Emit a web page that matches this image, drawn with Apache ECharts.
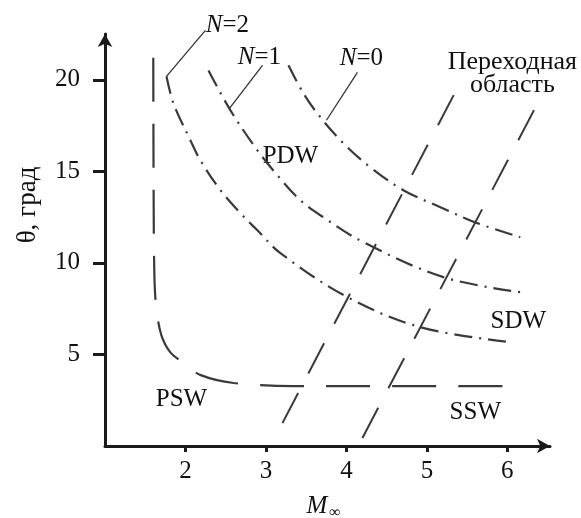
<!DOCTYPE html>
<html>
<head>
<meta charset="utf-8">
<script src="https://cdn.jsdelivr.net/npm/echarts@6/dist/echarts.min.js"></script>
<style>
  html, body { margin: 0; padding: 0; background: #fff; }
  #chart { width: 581px; height: 518px; }
</style>
</head>
<body>
<div id="chart"></div>
<script>
// Axis ticks
const xTicks = [2, 3, 4, 5, 6];
const yTicks = [5, 10, 15, 20];

// Wave-reflection boundaries for N = 2, 1, 0 (dash-dot curves)
const curveN2 = [[1.764, 20.19], [1.851, 18.71], [2.062, 16.69], [2.186, 15.60], [2.435, 13.97],
  [2.683, 12.71], [2.894, 11.78], [3.180, 10.53], [4.012, 8.13], [4.919, 6.49], [6.037, 5.67]];
const curveN1 = [[2.286, 20.51], [2.559, 18.33], [2.894, 16.15], [3.143, 14.78], [3.429, 13.42],
  [3.714, 12.49], [4.211, 11.13], [5.205, 9.22], [6.161, 8.40]];
const curveN0 = [[3.280, 20.79], [3.466, 19.26], [3.677, 17.95], [3.963, 16.53], [4.298, 15.22],
  [4.708, 13.97], [5.168, 13.04], [5.627, 12.17], [6.161, 11.40]];

// PSW / SSW boundary (long dashes)
const shockBoundary = [[1.600, 21.2], [1.605, 13.0], [1.615, 9.06], [1.640, 7.42], [1.700, 6.06],
  [1.810, 5.13], [1.975, 4.53], [2.190, 3.87], [2.600, 3.44], [3.340, 3.27], [6.200, 3.27]];

// Edges of the transition region
const transitionLeft = [[3.205, 1.25], [5.416, 19.86]];
const transitionRight = [[4.199, 0.44], [6.410, 19.00]];

// Leader lines from the N labels to their curves
const leaderN2 = [[2.248, 22.70], [1.764, 20.19]];
const leaderN1 = [[2.957, 20.79], [2.547, 18.44]];
const leaderN0 = [[4.137, 20.40], [3.752, 17.79]];

// Region and curve labels: [text, x, y]
const regionLabels = [
  ['PDW', 3.304, 15.82],
  ['SDW', 6.137, 6.82],
  ['SSW', 5.602, 1.85],
  ['PSW', 1.950, 2.56],
  ['Переходная\nобласть', 6.062, 20.35]
];
const nLabels = [
  ['2', 2.522, 22.97],
  ['1', 2.919, 21.22],
  ['0', 4.186, 21.17]
];

const FONT = "'Liberation Serif', 'Times New Roman', serif";
const FS = 25;
const INK = '#111';
const CURVE = '#3a3a3a';

const chart = echarts.init(document.getElementById('chart'), null, { renderer: 'canvas' });

function lineSeries(data, dash, width, color, smooth) {
  return {
    type: 'line',
    data: data,
    smooth: smooth === undefined ? 0.35 : smooth,
    symbol: 'none',
    silent: true,
    clip: false,
    lineStyle: { color: color || CURVE, width: width || 2, type: dash, cap: 'butt' }
  };
}

const dashDot = [18, 7, 2, 7];

chart.setOption({
  animation: false,
  grid: { left: 105, top: 34, right: 31, bottom: 72 },
  xAxis: {
    type: 'value',
    min: 1,
    max: 6.53,
    splitLine: { show: false },
    axisLine: { lineStyle: { color: '#1a1a1a', width: 3 }, symbol: ['none', 'arrow'], symbolSize: [11, 13] },
    axisTick: { customValues: xTicks, length: 6, lineStyle: { color: '#1a1a1a', width: 3 } },
    axisLabel: { customValues: xTicks, margin: 13, color: INK, fontFamily: FONT, fontSize: FS }
  },
  yAxis: {
    type: 'value',
    min: 0,
    max: 22.5,
    splitLine: { show: false },
    axisLine: { lineStyle: { color: '#1a1a1a', width: 3 }, symbol: ['none', 'arrow'], symbolSize: [11, 13] },
    axisTick: { customValues: yTicks, length: 12, lineStyle: { color: '#1a1a1a', width: 3 } },
    axisLabel: { customValues: yTicks, margin: 25, color: INK, fontFamily: FONT, fontSize: FS }
  },
  series: [
    lineSeries(shockBoundary, [44, 22], 2.2, CURVE, 0.3),
    lineSeries(curveN2, dashDot, 2.2),
    lineSeries(curveN1, dashDot, 2.2),
    lineSeries(curveN0, dashDot, 2.2),
    lineSeries(transitionLeft, [34, 22], 2, CURVE, false),
    lineSeries(transitionRight, [34, 22], 2, CURVE, false),
    lineSeries(leaderN2, 'solid', 1.3, '#333', false),
    lineSeries(leaderN1, 'solid', 1.3, '#333', false),
    lineSeries(leaderN0, 'solid', 1.3, '#333', false)
  ]
});

// Text annotations placed through the chart's own coordinate system
const graphics = [];
regionLabels.forEach(([text, x, y]) => {
  const p = chart.convertToPixel({ gridIndex: 0 }, [x, y]);
  const big = text.indexOf('\n') >= 0;
  graphics.push({
    type: 'text', x: p[0], y: p[1], silent: true,
    style: {
      text: text, fill: INK, font: (big ? 26 : FS) + 'px ' + FONT,
      align: 'center', verticalAlign: 'middle', lineHeight: 23
    }
  });
});
nLabels.forEach(([n, x, y]) => {
  const p = chart.convertToPixel({ gridIndex: 0 }, [x, y]);
  graphics.push({
    type: 'text', x: p[0], y: p[1], silent: true,
    style: {
      text: '{i|N}{r|=' + n + '}', align: 'center', verticalAlign: 'middle',
      rich: {
        i: { fontFamily: FONT, fontSize: FS, fontStyle: 'italic', fill: INK },
        r: { fontFamily: FONT, fontSize: FS, fill: INK }
      }
    }
  });
});
// Axis titles
graphics.push({
  type: 'text', x: 317, y: 506, silent: true,
  style: { text: 'M', fill: INK, font: 'italic ' + FS + 'px ' + FONT, align: 'center', verticalAlign: 'middle' }
});
graphics.push({
  type: 'text', x: 335, y: 513, silent: true,
  style: { text: '∞', fill: INK, font: '16px ' + FONT, align: 'center', verticalAlign: 'middle' }
});
graphics.push({
  type: 'text', x: 28, y: 205, rotation: Math.PI / 2, silent: true,
  style: { text: 'θ, град', fill: INK, font: '27px ' + FONT, align: 'center', verticalAlign: 'middle' }
});
chart.setOption({ graphic: graphics });
</script>
</body>
</html>
